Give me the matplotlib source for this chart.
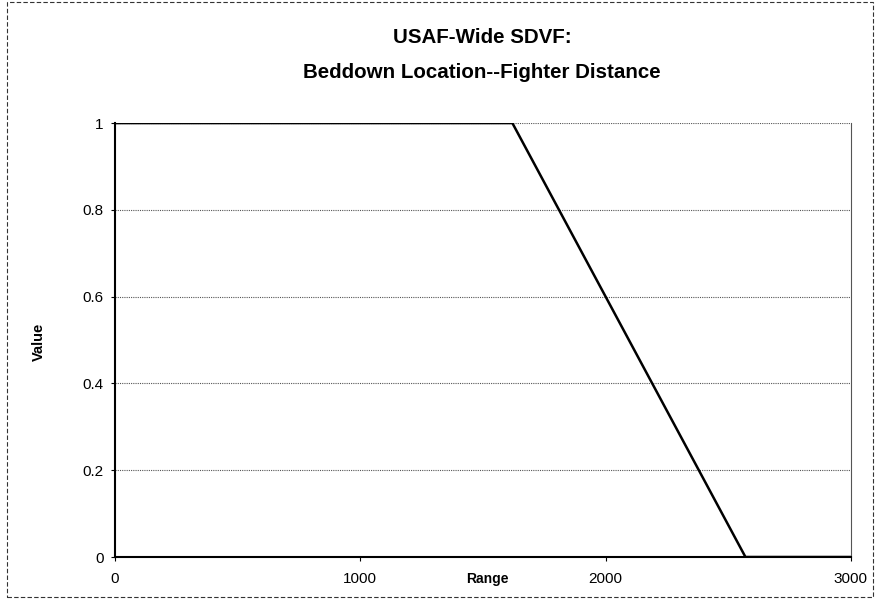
import matplotlib.pyplot as plt
from matplotlib.patches import Rectangle

# value function breakpoints
range_pts = [0, 1620, 2570, 3000]
value_pts = [1, 1, 0, 0]
x_ticks = [0, 1000, 2000, 3000]
y_ticks = [0, 0.2, 0.4, 0.6, 0.8, 1]
y_labels = ["0", "0.2", "0.4", "0.6", "0.8", "1"]

plt.rcParams['font.family'] = ['Liberation Sans', 'DejaVu Sans']

fig = plt.figure(figsize=(8.75, 6.01), dpi=100)
ax = fig.add_axes([0.1314, 0.0732, 0.8411, 0.722])

ax.plot(range_pts, value_pts, color='black', linewidth=1.8, solid_joinstyle='miter', zorder=3)

ax.set_xlim(0, 3000)
ax.set_ylim(0, 1)
ax.set_xticks(x_ticks)
ax.set_yticks(y_ticks)
ax.set_yticklabels(y_labels)
ax.tick_params(axis='both', direction='out', length=3, width=0.8, labelsize=11)
ax.tick_params(axis='y', pad=5)
ax.tick_params(axis='x', pad=8)

ax.grid(axis='y', color='#555555', linestyle=(0, (1, 1)), linewidth=0.8)
ax.spines['left'].set_linewidth(1.5)
ax.spines['bottom'].set_linewidth(1.5)
ax.spines['top'].set_visible(False)
ax.spines['right'].set_color('#555555')
ax.spines['right'].set_linestyle((0, (1, 1)))
ax.spines['right'].set_linewidth(0.8)

ax.set_xlabel('Range', fontsize=10, fontweight='bold', va='center')
ax.xaxis.set_label_coords(0.506, -0.05)
ax.set_ylabel('Value', fontsize=10.5, fontweight='bold', va='center')
ax.yaxis.set_label_coords(-0.103, 0.495)

fig.text(0.551, 0.938, 'USAF-Wide SDVF:', ha='center', va='center', fontsize=14.8, fontweight='bold')
fig.text(0.551, 0.880, 'Beddown Location--Fighter Distance', ha='center', va='center',
         fontsize=14.8, fontweight='bold')

# outer chart frame
fig.patches.append(Rectangle((0.008, 0.006), 0.99, 0.99, transform=fig.transFigure,
                             fill=False, edgecolor='#333333', linewidth=0.8,
                             linestyle=(0, (4, 2))))

plt.savefig('out.png', dpi=100)
